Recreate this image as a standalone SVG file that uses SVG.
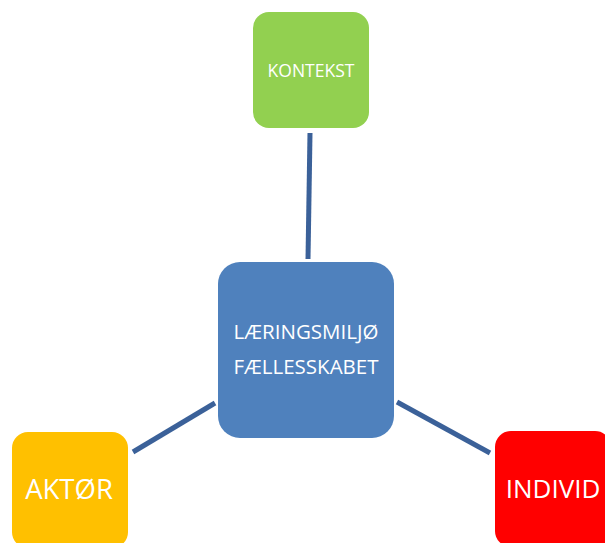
<svg xmlns="http://www.w3.org/2000/svg" width="605" height="543" viewBox="0 0 605 543">
<style>
.lbl{font-family:"Open Sans","Noto Sans","Liberation Sans",sans-serif;fill:#fff;text-anchor:middle}
.con{stroke:#3B6199;stroke-width:5;fill:none}
</style>
<rect width="605" height="543" fill="#fff"/>
<g id="connectors">
<line class="con" x1="310" y1="133" x2="308" y2="259"/>
<line class="con" x1="133" y1="452" x2="215" y2="403"/>
<line class="con" x1="397" y1="402" x2="490" y2="453"/>
</g>
<g id="kontekst">
<rect x="253" y="12" width="116" height="116" rx="16" fill="#92D050"/>
<text class="lbl" x="311" y="77" font-size="17.5">KONTEKST</text>
</g>
<g id="laeringsmiljo">
<rect x="218" y="262" width="176" height="176" rx="22" fill="#4F81BD"/>
<text class="lbl" x="306" y="339" font-size="20.5">LÆRINGSMILJØ</text>
<text class="lbl" x="306" y="374" font-size="20.5">FÆLLESSKABET</text>
</g>
<g id="aktor">
<rect x="12" y="432" width="116" height="116" rx="16" fill="#FFC000"/>
<text class="lbl" x="69" y="499" font-size="27.5">AKTØR</text>
</g>
<g id="individ">
<rect x="495" y="431" width="116" height="116" rx="16" fill="#FF0000"/>
<text class="lbl" x="553" y="498" font-size="26">INDIVID</text>
</g>
</svg>
